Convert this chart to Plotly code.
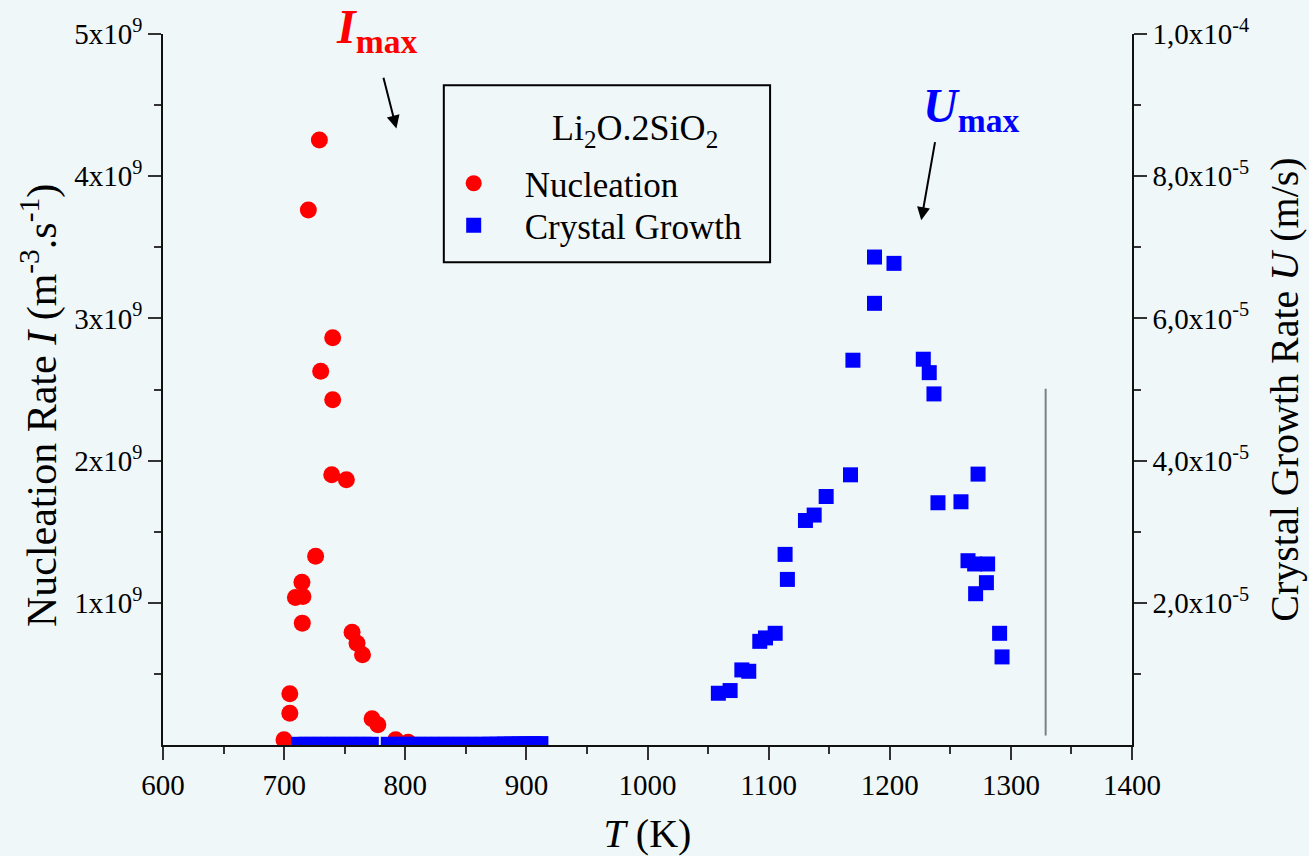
import plotly.graph_objects as go

# ---- data ----
nuc_T = [699.9, 704.7, 704.7, 709.3, 714.7, 715.5, 715.0, 720.0, 726.0, 729.1, 730.2,
         739.3, 740.1, 740.1, 751.4, 756.1, 760.2, 764.7, 772.6, 777.4, 792.1, 802.4]
nuc_I = [0.037e9, 0.360e9, 0.224e9, 1.038e9, 1.145e9, 1.044e9, 0.857e9, 3.762e9, 1.328e9,
         4.254e9, 2.629e9, 1.901e9, 2.864e9, 2.428e9, 1.866e9, 0.793e9, 0.716e9, 0.634e9,
         0.184e9, 0.142e9, 0.037e9, 0.020e9]

gro_T = [712, 718, 724, 730, 736, 742, 748, 754, 760, 766, 772,
         786, 792, 798, 804, 810, 816, 822, 828, 834, 840, 846, 852, 858, 864,
         870, 876, 882, 888, 894, 900, 906, 912,
         1058.5, 1068.2, 1077.9, 1083.6, 1092.7, 1097.4, 1105.4, 1113.6, 1115.5,
         1130.4, 1137.6, 1147.5, 1167.6, 1169.6, 1187.4, 1187.4, 1203.5, 1227.7,
         1232.6, 1236.5, 1239.8, 1258.8, 1264.6, 1270.1, 1270.9, 1272.9, 1279.8,
         1280.8, 1290.7, 1292.7]
gro_U = [1e-7, 1e-7, 1e-7, 1e-7, 1e-7, 1e-7, 1e-7, 1e-7, 1e-7, 1e-7, 1e-7,
         1e-7, 1e-7, 1e-7, 1e-7, 1e-7, 1e-7, 1e-7, 1e-7, 1e-7, 1e-7, 1e-7, 1e-7, 1e-7, 1e-7,
         1.2e-7, 1.2e-7, 1.5e-7, 1.5e-7, 1.8e-7, 1.8e-7, 2e-7, 2e-7,
         0.728e-5, 0.766e-5, 1.056e-5, 1.037e-5, 1.458e-5, 1.506e-5, 1.571e-5, 2.681e-5, 2.329e-5,
         3.158e-5, 3.234e-5, 3.495e-5, 3.800e-5, 5.412e-5, 6.863e-5, 6.212e-5, 6.774e-5, 5.426e-5,
         5.237e-5, 4.938e-5, 3.407e-5, 3.421e-5, 2.592e-5, 2.546e-5, 2.128e-5, 3.810e-5, 2.283e-5,
         2.546e-5, 1.571e-5, 1.239e-5]

x_ticks = [600, 700, 800, 900, 1000, 1100, 1200, 1300, 1400]
x_minor = [650, 750, 850, 950, 1050, 1150, 1250, 1350]
yl_ticks = [1e9, 2e9, 3e9, 4e9, 5e9]
yl_labels = ["1x10<sup>9</sup>", "2x10<sup>9</sup>", "3x10<sup>9</sup>", "4x10<sup>9</sup>", "5x10<sup>9</sup>"]
yl_minor = [0.5e9, 1.5e9, 2.5e9, 3.5e9, 4.5e9]
yr_ticks = [2e-5, 4e-5, 6e-5, 8e-5, 1e-4]
yr_labels = ["2,0x10<sup>-5</sup>", "4,0x10<sup>-5</sup>", "6,0x10<sup>-5</sup>",
             "8,0x10<sup>-5</sup>", "1,0x10<sup>-4</sup>"]
yr_minor = [1e-5, 3e-5, 5e-5, 7e-5, 9e-5]

FONT = "Liberation Serif, Times New Roman, serif"
BG = "#EFF7F9"

fig = go.Figure()
fig.add_trace(go.Scatter(x=nuc_T, y=nuc_I, mode="markers", name="Nucleation", legend="legend",
                         marker=dict(symbol="circle", size=17, color="#FF0000", line=dict(width=0)),
                         yaxis="y"))
fig.add_trace(go.Scatter(x=gro_T, y=gro_U, mode="markers", name="Crystal Growth", legend="legend2",
                         marker=dict(symbol="square", size=15, color="#0000FF", line=dict(width=0)),
                         yaxis="y2"))

axis_common = dict(showgrid=False, zeroline=False, showline=True, linecolor="#111", linewidth=1.5,
                   ticks="outside", ticklen=13, tickwidth=1.5, tickcolor="#333", automargin=False,
                   tickfont=dict(family=FONT, size=29, color="black"))

leg_common = dict(xanchor="left", yanchor="top", bgcolor="rgba(0,0,0,0)", borderwidth=0,
                  font=dict(family=FONT, size=35, color="black"), itemwidth=92)

fig.update_layout(
    width=1309, height=856,
    margin=dict(l=163, r=177, t=34, b=111),
    paper_bgcolor=BG, plot_bgcolor=BG,
    font=dict(family=FONT, color="black"),
    xaxis=dict(range=[600, 1400], tickvals=x_ticks, ticktext=[str(v) for v in x_ticks],
               minor=dict(tickvals=x_minor, ticklen=7, ticks="outside", tickcolor="#333", tickwidth=1.5),
               title=dict(text="<i>T</i> (K)", font=dict(family=FONT, size=40), standoff=29),
               **axis_common),
    yaxis=dict(range=[0, 5e9], tickvals=yl_ticks, ticktext=yl_labels,
               minor=dict(tickvals=yl_minor, ticklen=7, ticks="outside", tickcolor="#333", tickwidth=1.5),
               **axis_common),
    yaxis2=dict(range=[0, 1e-4], overlaying="y", side="right", tickvals=yr_ticks, ticktext=yr_labels,
                minor=dict(tickvals=yr_minor, ticklen=7, ticks="outside", tickcolor="#333", tickwidth=1.5),
                title=dict(text="Crystal Growth Rate <i>U</i> (m/s)",
                           font=dict(family=FONT, size=40), standoff=22),
                **axis_common),
    legend=dict(x=0.268, y=0.8312, **leg_common),
    legend2=dict(x=0.268, y=0.7720, **leg_common),
    showlegend=True,
)

# left axis title (placed as rotated text)
fig.add_annotation(x=-0.127, y=0.478, xref="paper", yref="paper", xanchor="center", yanchor="middle",
                   textangle=-90, showarrow=False,
                   text="Nucleation Rate <i>I</i> (m<sup>-3</sup>.s<sup>-1</sup>)",
                   font=dict(family=FONT, size=42, color="black"))

# legend frame and title
fig.add_shape(type="rect", xref="paper", yref="paper",
              x0=0.2898, x1=0.6265, y0=0.6788, y1=0.9278,
              line=dict(color="black", width=2), fillcolor="rgba(0,0,0,0)", layer="above")
fig.add_annotation(x=(635 - 163) / 969, y=(745 - 130) / 711, xref="paper", yref="paper",
                   xanchor="center", yanchor="middle", showarrow=False,
                   text="Li<sub>2</sub>O.2SiO<sub>2</sub>",
                   font=dict(family=FONT, size=36, color="black"))

# vertical grey line
fig.add_shape(type="line", xref="x", yref="y", x0=1328.7, x1=1328.7, y0=0.067e9, y1=2.506e9,
              line=dict(color="#808080", width=2))

# annotations
fig.add_annotation(x=776.4, y=1.006, xref="x", yref="paper", yanchor="middle", showarrow=False,
                   text="<b><i>I</i></b><sub><b>max</b></sub>",
                   font=dict(family=FONT, size=48, color="#FF0000"))
fig.add_annotation(x=1267.4, y=0.895, xref="x", yref="paper", yanchor="middle", showarrow=False,
                   text="<b><i>U</i></b><sub><b>max</b></sub>",
                   font=dict(family=FONT, size=48, color="#0000FF"))
fig.add_annotation(x=792.7, y=4.335e9, ax=781.7, ay=4.703e9, xref="x", yref="y", axref="x", ayref="y",
                   text="", showarrow=True, arrowhead=2, arrowsize=1.3, arrowwidth=2, arrowcolor="black")
fig.add_annotation(x=1226.0, y=3.69e9, ax=1237.6, ay=4.25e9, xref="x", yref="y", axref="x", ayref="y",
                   text="", showarrow=True, arrowhead=2, arrowsize=1.3, arrowwidth=2, arrowcolor="black")

fig.write_html("out.html",
               config={"displayModeBar": False},
               post_script="document.body.style.margin='0';document.body.style.background='" + BG + "';"
                           "document.documentElement.style.background='" + BG + "';"
                           "document.body.style.overflow='hidden';")
